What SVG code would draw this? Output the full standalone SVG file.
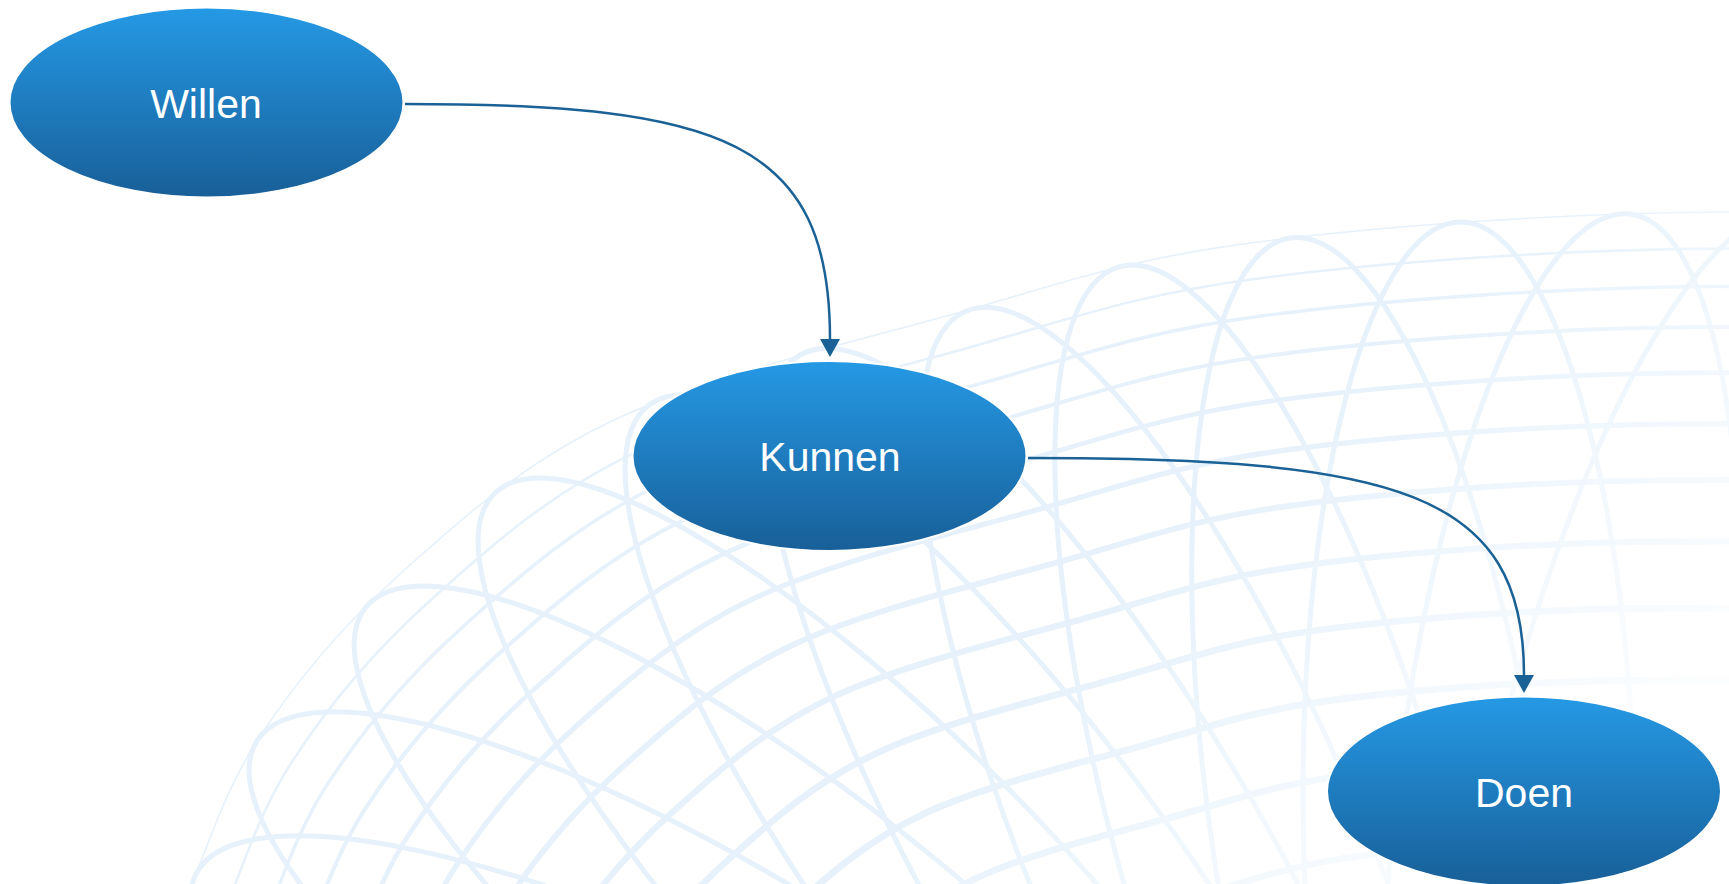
<svg xmlns="http://www.w3.org/2000/svg" xmlns:xlink="http://www.w3.org/1999/xlink" width="1729" height="884" viewBox="0 0 1729 884">
<style>
.bg path, .bg use, .bg ellipse { fill:none; stroke:#e6f1fb; stroke-linecap:round; }
.bg ellipse { stroke-width:5; }
.node ellipse { fill:url(#ng); stroke:#ffffff; stroke-width:2; }
.node text { fill:#ffffff; font-family:"Liberation Sans", Arial, sans-serif; font-size:41px; text-anchor:middle; }
.edge { fill:none; stroke:#1a6296; stroke-width:2.5; }
</style>
<defs>
<linearGradient id="ng" x1="0" y1="0" x2="0" y2="1">
<stop offset="0" stop-color="#2599e5"/>
<stop offset="1" stop-color="#185f98"/>
</linearGradient>
<linearGradient id="fadeG" gradientUnits="userSpaceOnUse" x1="850" y1="850" x2="1250" y2="1250">
<stop offset="0" stop-color="#fff"/>
<stop offset="1" stop-color="#000"/>
</linearGradient>
<mask id="fade" maskUnits="userSpaceOnUse" x="0" y="0" width="1729" height="884">
<rect x="0" y="0" width="1729" height="884" fill="url(#fadeG)"/>
</mask>
<path id="limb" d="M-20,1700 C-8,1641.7 28,1455.7 50,1350 C72,1244.3 90.5,1138.3 112,1066 C133.5,993.7 154.8,970.2 179,916 C203.2,861.8 220.2,798 257,741 C293.8,684 340.5,627.5 400,574 C459.5,520.5 522.3,463.2 614,420 C705.7,376.8 844,344.5 950,315 C1056,285.5 1120.2,260.2 1250,243 C1379.8,225.8 1570.7,212.5 1729,212 C1887.3,211.5 2054.8,208.7 2200,240 C2345.2,271.3 2483.3,323.3 2600,400 C2716.7,476.7 2850,650 2900,700"/>
<marker id="ah" markerUnits="userSpaceOnUse" markerWidth="20" markerHeight="20" viewBox="0 0 20 20" refX="0" refY="10" orient="auto">
<path d="M0,0 L18,10 L0,20 Z" fill="#1a6296"/>
</marker>
</defs>
<rect x="0" y="0" width="1729" height="884" fill="#ffffff"/>
<g id="globe" class="bg" mask="url(#fade)">
<use xlink:href="#limb" href="#limb" stroke-width="1.6"/>
<use xlink:href="#limb" href="#limb" transform="matrix(0.972,0,0,0.972,41.44,42.56)" stroke-width="2.6"/>
<use xlink:href="#limb" href="#limb" transform="matrix(0.943,0,0,0.943,84.36,86.64)" stroke-width="3.6"/>
<use xlink:href="#limb" href="#limb" transform="matrix(0.912,0,0,0.912,130.24,133.76)" stroke-width="4.4"/>
<use xlink:href="#limb" href="#limb" transform="matrix(0.877,0,0,0.877,182.04,186.96)" stroke-width="5.3"/>
<use xlink:href="#limb" href="#limb" transform="matrix(0.838,0,0,0.838,239.76,246.24)" stroke-width="6.3"/>
<use xlink:href="#limb" href="#limb" transform="matrix(0.795,0,0,0.795,303.4,311.6)" stroke-width="7.3"/>
<use xlink:href="#limb" href="#limb" transform="matrix(0.748,0,0,0.748,372.96,383.04)" stroke-width="8.3"/>
<use xlink:href="#limb" href="#limb" transform="matrix(0.697,0,0,0.697,448.44,460.56)" stroke-width="9.5"/>
<use xlink:href="#limb" href="#limb" transform="matrix(0.642,0,0,0.642,529.84,544.16)" stroke-width="10.5"/>
<use xlink:href="#limb" href="#limb" transform="matrix(0.583,0,0,0.583,617.16,633.84)" stroke-width="11.5"/>
<use xlink:href="#limb" href="#limb" transform="matrix(0.52,0,0,0.52,710.4,729.6)" stroke-width="12.5"/>
<ellipse cx="1657.4" cy="794.8" rx="600" ry="166" transform="rotate(103.75 1657.4 794.8)"/>
<ellipse cx="1561.5" cy="810.1" rx="600" ry="166" transform="rotate(96.55 1561.5 810.1)"/>
<ellipse cx="1469.2" cy="822" rx="600" ry="166" transform="rotate(89.12 1469.2 822)"/>
<ellipse cx="1378" cy="831.5" rx="600" ry="166" transform="rotate(81.57 1378 831.5)"/>
<ellipse cx="1285.1" cy="843.5" rx="600" ry="166" transform="rotate(73.93 1285.1 843.5)"/>
<ellipse cx="1200.8" cy="863.2" rx="600" ry="166" transform="rotate(66.97 1200.8 863.2)"/>
<ellipse cx="1102.5" cy="873.2" rx="600" ry="166" transform="rotate(59.73 1102.5 873.2)"/>
<ellipse cx="1007.6" cy="886.1" rx="600" ry="166" transform="rotate(53.3 1007.6 886.1)"/>
<ellipse cx="910.3" cy="926" rx="600" ry="166" transform="rotate(46.2 910.3 926)"/>
<ellipse cx="830.1" cy="987.3" rx="600" ry="166" transform="rotate(39.33 830.1 987.3)"/>
<ellipse cx="763" cy="1063.3" rx="600" ry="166" transform="rotate(32.5 763 1063.3)"/>
<ellipse cx="732" cy="1143.6" rx="600" ry="166" transform="rotate(26.7 732 1143.6)"/>
<ellipse cx="692.7" cy="1228.4" rx="600" ry="166" transform="rotate(20.3 692.7 1228.4)"/>
</g>
<g id="connectors">
<path class="edge" d="M405,104 C720,104 830,140 830,339" marker-end="url(#ah)"/>
<path class="edge" d="M1028,458 C1395,458 1524,490.5 1524,675" marker-end="url(#ah)"/>
</g>
<g id="node-willen" class="node">
<ellipse cx="206.5" cy="102.5" rx="197" ry="95"/>
<text x="206" y="118">Willen</text>
</g>
<g id="node-kunnen" class="node">
<ellipse cx="829.5" cy="456" rx="197" ry="95"/>
<text x="830" y="471">Kunnen</text>
</g>
<g id="node-doen" class="node">
<ellipse cx="1524" cy="791.5" rx="197" ry="95"/>
<text x="1524" y="807">Doen</text>
</g>
</svg>
